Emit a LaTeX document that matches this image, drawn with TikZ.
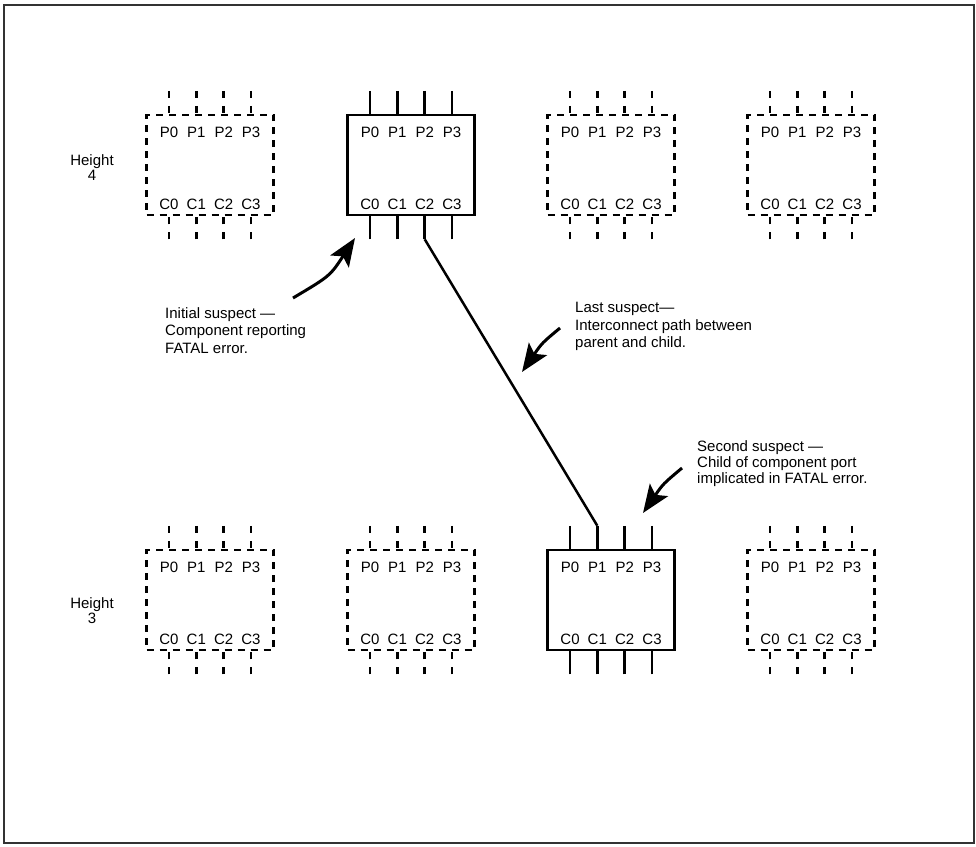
\documentclass[tikz,border=0pt]{standalone}
\usepackage{fontspec}
\setmainfont{Liberation Sans}
\usetikzlibrary{arrows.meta,positioning,calc}
\tikzstyle{comp}=[draw, line width=2.5pt, minimum width=127pt, minimum height=100pt, inner sep=0pt]
\tikzstyle{ghost}=[comp, dash pattern=on 7pt off 6pt]
\tikzstyle{wire}=[line width=2.5pt]
\tikzstyle{ghostwire}=[wire, dash pattern=on 7pt off 8pt]
\tikzstyle{port}=[font=\fontsize{15}{15}\selectfont, inner sep=0pt]
\tikzstyle{note}=[font=\fontsize{15}{17.5}\selectfont, align=left, anchor=north west, inner sep=0pt]
\tikzstyle{arrow}=[-{Stealth[length=28pt,width=22pt,inset=6pt]}, line width=3pt]

\begin{document}
\begin{tikzpicture}[x=1pt,y=-1pt]
\useasboundingbox (0,0) rectangle (976,846);
\draw[line width=2pt, black!80] (4,5) rectangle (974,843);

% components: height 4 on top, height 3 below
\foreach \n/\x/\y/\s/\w in {a/210/165/ghost/ghostwire, b/411/165/comp/wire,
    c/611/165/ghost/ghostwire, d/811/165/ghost/ghostwire,
    e/210/600/ghost/ghostwire, f/411/600/ghost/ghostwire,
    g/611/600/comp/wire, h/811/600/ghost/ghostwire} {
  \node[\s] (\n) at (\x,\y) {};
  \foreach \k/\dx in {0/-41,1/-13.7,2/13.7,3/41} {
    \node[port] (\n-P\k) at ($(\n.north)+(\dx,19)$) {P\k};
    \node[port] (\n-C\k) at ($(\n.south)+(\dx,-12)$) {C\k};
    \coordinate (\n-p\k) at ($(\n.north)+(\dx,-23)$);
    \coordinate (\n-c\k) at ($(\n.south)+(\dx,23)$);
    \draw[\w] (\n-p\k) -- (\n-p\k |- \n.north);
    \draw[\w] (\n-c\k) -- (\n-c\k |- \n.south);
  }
}
% interconnect between parent and child
\draw[wire] (b-c2) -- (g-p1);

% height labels
\node[port, align=center] (h4) at (92,168) {Height\\4};
\node[port, align=center] (h3) at (92,611) {Height\\3};

% suspects
\node[note] (initial) at (165,307) {Initial suspect —\\Component reporting\\FATAL error.};
\node[note] (last) at (575,302) {Last suspect—\\Interconnect path between\\parent and child.};
\node[note, font=\fontsize{15}{16}\selectfont] (second) at (697,440) {Second suspect —\\Child of component port\\implicated in FATAL error.};

\coordinate (initial-tail) at (293,298);
\coordinate (initial-tip) at (355,238);
\draw[arrow] (initial-tail) .. controls (330,276) .. (initial-tip);
\coordinate (last-tail) at (560,328);
\coordinate (last-tip) at (522,372);
\draw[arrow] (last-tail) .. controls (542,343) .. (last-tip);
\coordinate (second-tail) at (682,468);
\coordinate (second-tip) at (643,513);
\draw[arrow] (second-tail) .. controls (663,484) .. (second-tip);
\end{tikzpicture}
\end{document}
